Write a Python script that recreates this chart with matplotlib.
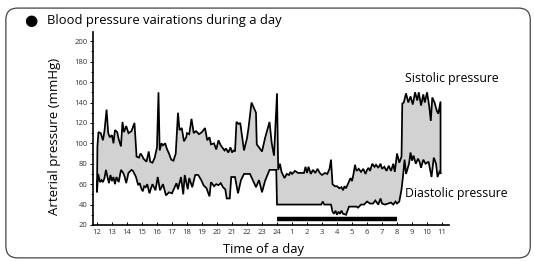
import numpy as np
import matplotlib
matplotlib.use('Agg')
import matplotlib.pyplot as plt
from matplotlib.patches import FancyBboxPatch

plt.rcParams['font.family'] = ['Open Sans', 'DejaVu Sans']

# time in hours from noon (24 = midnight, 35 = 11 next morning)
sys_time = [12.03, 12.1, 12.25, 12.4, 12.5, 12.64, 12.75, 12.85, 13.0, 13.1, 13.2, 13.35, 13.45,
            13.6, 13.7, 13.8, 13.95, 14.1, 14.3, 14.5, 14.64, 14.8, 14.9, 15.0, 15.1, 15.3, 15.45,
            15.55, 15.7, 15.85, 16.0, 16.1, 16.18, 16.3, 16.4, 16.55, 16.65, 16.8, 16.95, 17.1,
            17.25, 17.4, 17.5, 17.65, 17.8, 17.95, 18.0, 18.15, 18.3, 18.45, 18.6, 18.8, 19.0,
            19.2, 19.35, 19.5, 19.6, 19.8, 19.95, 20.1, 20.25, 20.4, 20.5, 20.6, 20.75, 20.9,
            21.0, 21.1, 21.2, 21.3, 21.45, 21.55, 21.8, 22.0, 22.1, 22.3, 22.6, 22.65, 22.8, 23.0,
            23.2, 23.5, 23.65, 23.8, 24.0, 24.08, 24.2, 24.3, 24.5, 24.65, 24.8, 24.9, 25.0, 25.2,
            25.4, 25.6, 25.8, 25.9, 26.0, 26.1, 26.25, 26.4, 26.55, 26.7, 26.85, 27.0, 27.2,
            27.35, 27.5, 27.6, 27.7, 27.85, 28.0, 28.15, 28.3, 28.4, 28.5, 28.6, 28.75, 28.9,
            29.0, 29.1, 29.2, 29.3, 29.45, 29.6, 29.75, 29.9, 30.0, 30.1, 30.2, 30.35, 30.5, 30.6,
            30.75, 30.9, 31.0, 31.15, 31.3, 31.45, 31.6, 31.75, 31.85, 32.0, 32.15, 32.3, 32.35,
            32.45, 32.6, 32.75, 32.9, 33.05, 33.2, 33.35, 33.45, 33.6, 33.75, 33.85, 34.0, 34.15,
            34.25, 34.35, 34.5, 34.65, 34.75, 34.9]
sys_vals = [97, 111, 110, 103, 112, 133, 110, 106, 108, 100, 113, 111, 104,
            97, 121, 111, 117, 110, 112, 120, 87, 86, 90, 88, 85, 82, 92,
            82, 81, 86, 96, 150, 93, 100, 98, 100, 95, 90, 84, 83,
            90, 130, 113, 115, 102, 106, 110, 109, 124, 110, 112, 109, 111,
            115, 103, 106, 99, 100, 94, 103, 98, 95, 93, 95, 91, 96,
            91, 93, 92, 121, 119, 120, 93, 105, 115, 140, 130, 99, 96, 92,
            105, 121, 100, 88, 149, 74, 80, 72, 66, 70, 69, 72, 70, 73,
            71, 71, 71, 77, 71, 77, 70, 74, 71, 75, 71, 69, 71,
            70, 75, 84, 60, 58, 58, 56, 57, 54, 58, 56, 61, 66,
            63, 70, 79, 73, 75, 72, 75, 70, 74, 76, 73, 80, 77, 79,
            76, 80, 75, 77, 73, 78, 73, 80, 72, 90, 81, 87, 139,
            140, 149, 140, 146, 138, 150, 142, 150, 137, 148, 140, 150, 136,
            122, 145, 140, 132, 129, 141]

dia_time = [12.0, 12.08, 12.2, 12.3, 12.4, 12.5, 12.6, 12.7, 12.8, 12.9, 13.0, 13.1, 13.2, 13.3,
            13.45, 13.6, 13.75, 13.85, 13.95, 14.1, 14.3, 14.4, 14.6, 14.75, 14.85, 14.95, 15.05,
            15.15, 15.25, 15.35, 15.5, 15.6, 15.7, 15.9, 16.05, 16.2, 16.4, 16.6, 16.8, 17.0,
            17.3, 17.4, 17.6, 17.75, 17.85, 18.05, 18.15, 18.35, 18.55, 18.75, 18.95, 19.1, 19.3,
            19.5, 19.6, 19.8, 19.95, 20.1, 20.25, 20.4, 20.55, 20.65, 20.85, 20.95, 21.2, 21.4,
            21.6, 21.8, 22.2, 22.6, 22.8, 23.0, 23.2, 23.5, 23.95, 24.0, 26.5, 26.95, 27.05, 27.15,
            27.6, 27.7, 27.8, 27.9, 28.0, 28.1, 28.2, 28.3, 28.4, 28.6, 28.8, 29.0, 29.3, 29.4,
            29.6, 29.8, 30.0, 30.2, 30.4, 30.55, 30.75, 30.9, 31.0, 31.2, 31.4, 31.6, 31.75,
            31.9, 32.0, 32.15, 32.3, 32.4, 32.5, 32.6, 32.8, 32.9, 33.0, 33.1, 33.25, 33.4, 33.5,
            33.6, 33.75, 33.9, 34.1, 34.3, 34.45, 34.6, 34.7, 34.85, 34.9]
dia_vals = [52, 70, 62, 64, 62, 66, 74, 67, 61, 69, 63, 67, 60, 67,
            62, 74, 71, 67, 61, 71, 74, 73, 67, 59, 61, 56, 53,
            58, 57, 60, 51, 56, 60, 54, 67, 54, 60, 49, 52, 51,
            61, 55, 67, 50, 69, 55, 66, 57, 69, 69, 64, 59, 56,
            48, 62, 58, 60, 59, 61, 57, 55, 46, 46, 67, 67, 51,
            64, 70, 70, 57, 64, 52, 63, 74, 74, 40, 40, 40, 43, 40,
            40, 33, 31, 34, 30, 33, 31, 34, 31, 30, 38, 38, 38, 37,
            40, 40, 43, 41, 41, 44, 40, 46, 41, 40, 41, 42, 40,
            43, 41, 43, 55, 68, 84, 70, 80, 91, 83, 88, 80, 85, 82,
            76, 84, 80, 82, 67, 86, 80, 67, 73, 70]

# night period (24h -> 8h) marker
night_start, night_end = 24, 32

tick_pos = list(range(12, 36))
tick_labels = [str(h) for h in range(12, 25)] + [str(h) for h in range(1, 12)]

fig = plt.figure(figsize=(5.34, 2.61), dpi=100)
ax = fig.add_axes([0.174, 0.138, 0.667, 0.739])

# shaded band between systolic and diastolic
band_x = np.concatenate([sys_time, dia_time[::-1]])
band_y = np.concatenate([sys_vals, dia_vals[::-1]])
ax.fill(band_x, band_y, facecolor='#d2d2d2', edgecolor='black', linewidth=1.25, joinstyle='miter')

ax.plot([night_start, night_end], [25.5, 25.5], color='black', linewidth=3.2, solid_capstyle='butt')

ax.set_xlim(11.73, 35.47)
ax.set_ylim(20, 209)
ax.set_yticks(range(20, 201, 20))
ax.set_yticks(range(30, 200, 20), minor=True)
ax.set_xticks(tick_pos)
ax.set_xticklabels(tick_labels)
ax.tick_params(axis='both', labelsize=5.5, labelcolor='#333333', length=2.5, width=0.7, pad=1.5)
ax.tick_params(axis='y', which='minor', length=1.5, width=0.6)
ax.tick_params(axis='x', direction='in', pad=3)
for s in ['top', 'right']:
    ax.spines[s].set_visible(False)
for s in ['left', 'bottom']:
    ax.spines[s].set_linewidth(1.2)

ax.set_ylabel('Arterial pressure (mmHg)', fontsize=9.5, color='black')
ax.yaxis.set_label_coords(-0.09, 0.46)
ax.set_xlabel('Time of a day', fontsize=9.4, color='black')
ax.xaxis.set_label_coords(0.478, -0.095)

ax.text(32.5, 164, 'Sistolic pressure', fontsize=8.8, va='center', ha='left', color='black')
ax.text(32.55, 51, 'Diastolic pressure', fontsize=8.8, va='center', ha='left', color='black')

fig.text(0.058, 0.923, '\u25CF', fontsize=11, family='DejaVu Sans', va='center', ha='center')
fig.text(0.088, 0.923, 'Blood pressure vairations during a day', fontsize=9.4, va='center', ha='left',
         color='black')

border = FancyBboxPatch((0.011, 0.012), 0.982, 0.957, boxstyle='round,pad=0,rounding_size=0.022',
                        transform=fig.transFigure, mutation_aspect=534 / 261,
                        facecolor='none', edgecolor='#444444', linewidth=0.9)
fig.patches.append(border)

fig.savefig('out.png', dpi=100)
